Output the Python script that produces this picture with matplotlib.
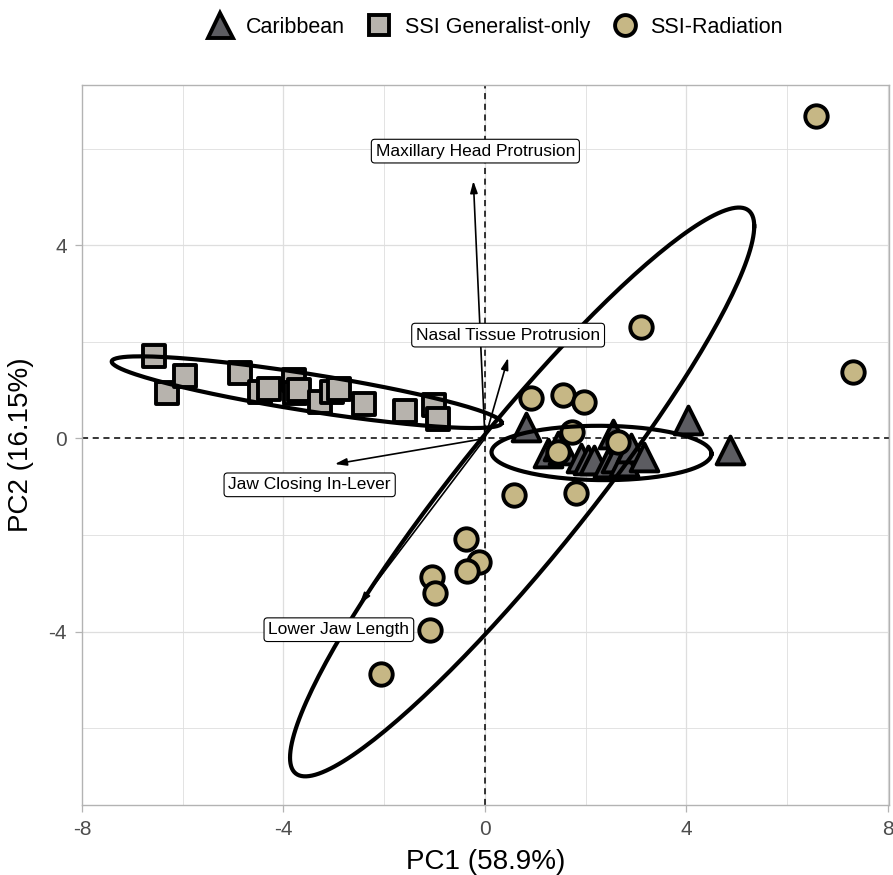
import matplotlib
matplotlib.use("Agg")
import matplotlib.pyplot as plt
from matplotlib.lines import Line2D
import numpy as np

plt.rcParams['font.family'] = ['Liberation Sans', 'DejaVu Sans']

groups = ["Caribbean", "SSI Generalist-only", "SSI-Radiation"]

carib_pc1 = [0.82, 4.04, 4.86, 1.25, 1.45, 1.55, 1.91, 2.05, 2.17, 2.44, 2.54, 2.60, 2.76, 2.90, 3.16]
carib_pc2 = [0.24, 0.38, -0.24, -0.30, -0.15, -0.24, -0.40, -0.45, -0.45, -0.51, 0.10, -0.40, -0.48, -0.20, -0.38]

gen_pc1 = [-6.57, -6.31, -5.95, -4.86, -4.47, -4.29, -3.80, -3.78, -3.70, -3.28, -3.04, -2.90, -2.41, -1.58, -1.02, -0.93]
gen_pc2 = [1.71, 0.94, 1.30, 1.36, 0.97, 1.03, 1.21, 0.94, 1.00, 0.76, 0.96, 1.02, 0.71, 0.57, 0.69, 0.40]

rad_pc1 = [6.58, 7.31, 3.10, 0.92, 1.55, 1.97, 1.73, 1.45, 2.64, 0.58, 1.81,
           -0.37, -0.11, -0.35, -1.06, -1.00, -1.10, -2.07]
rad_pc2 = [6.68, 1.38, 2.31, 0.84, 0.90, 0.76, 0.13, -0.28, -0.07, -1.17, -1.13,
           -2.08, -2.56, -2.74, -2.87, -3.20, -3.96, -4.87]

# loadings (arrow tips) and label positions
load_names = ["Maxillary Head Protrusion", "Nasal Tissue Protrusion",
              "Jaw Closing In-Lever", "Lower Jaw Length"]
load_pc1 = [-0.23, 0.46, -2.98, -2.49]
load_pc2 = [5.33, 1.67, -0.53, -3.43]
label_pc1 = [-0.19, 0.46, -3.48, -2.90]
label_pc2 = [5.95, 2.14, -0.96, -3.96]


def cov_trob(x, nu=5, maxit=25, tol=0.01):
    # port of MASS::cov.trob, as used by ggplot2 stat_ellipse(type = "t")
    n, p = x.shape
    loc = x.mean(axis=0)
    w = np.ones(n)
    for _ in range(maxit):
        w0 = w
        X = x - loc
        _, d, vt = np.linalg.svd(np.sqrt(w / w.sum())[:, None] * X, full_matrices=False)
        wX = X @ vt.T @ np.diag(1 / d)
        Q = (wX ** 2).sum(axis=1)
        w = (nu + p) / (nu + Q)
        loc = (w[:, None] * x).sum(axis=0) / w.sum()
        if np.all(np.abs(w - w0) < tol):
            break
    cov = (np.sqrt(w)[:, None] * X).T @ (np.sqrt(w)[:, None] * X) / n
    return loc, cov


def t_ellipse(xs, ys, level=0.95, segments=51):
    x = np.column_stack([xs, ys])
    loc, cov = cov_trob(x)
    dfd = len(xs) - 1
    qf = dfd / 2 * ((1 - level) ** (-2 / dfd) - 1)  # F(2, dfd) quantile
    radius = np.sqrt(2 * qf)
    chol = np.linalg.cholesky(cov).T
    ang = np.linspace(0, 2 * np.pi, segments + 1)
    circ = np.column_stack([np.cos(ang), np.sin(ang)])
    return loc + radius * circ @ chol


fig = plt.figure(figsize=(8.93, 8.75), dpi=100)
ax = fig.add_axes([0.0918, 0.080, 0.9042, 0.8229])

grid_col = "#dedede"
for v in [-6, -4, -2, 0, 2, 4, 6, 8]:
    ax.axvline(v, color=grid_col, lw=0.6 if v % 4 else 0.9, zorder=0)
for v in [-6, -4, -2, 2, 4, 6]:
    ax.axhline(v, color=grid_col, lw=0.6 if v % 4 else 0.9, zorder=0)
ax.axhline(0, color="black", lw=1.1, ls=(0, (4, 3)), zorder=1)
ax.axvline(0, color="black", lw=1.1, ls=(0, (4, 3)), zorder=1)

ax.scatter(carib_pc1, carib_pc2, marker="^", s=400, c="#5c5c61",
           edgecolors="black", linewidths=2.8, zorder=3)
ax.scatter(gen_pc1, gen_pc2, marker="s", s=230, c="#b7b3ad",
           edgecolors="black", linewidths=2.8, zorder=3)
ax.scatter(rad_pc1, rad_pc2, marker="o", s=260, c="#c6b785",
           edgecolors="black", linewidths=2.8, zorder=4)

for xs, ys in [(carib_pc1, carib_pc2), (gen_pc1, gen_pc2), (rad_pc1, rad_pc2)]:
    e = t_ellipse(xs, ys, segments=200)
    ax.plot(e[:, 0], e[:, 1], color="black", lw=3.0, zorder=5)

for name, lx, ly, tx, ty in zip(load_names, load_pc1, load_pc2, label_pc1, label_pc2):
    ax.annotate("", xy=(lx, ly), xytext=(0, 0),
                arrowprops=dict(arrowstyle="-|>,head_length=0.7,head_width=0.22",
                                color="black", lw=1.2, shrinkA=0, shrinkB=0),
                zorder=6)
    ax.text(tx, ty, name, ha="center", va="center", fontsize=12.5, zorder=7,
            bbox=dict(boxstyle="round,pad=0.25,rounding_size=0.2",
                      fc="white", ec="black", lw=0.8))

ax.set_xlim(-7.95, 8.03)
ax.set_ylim(-7.59, 7.32)
ax.set_xticks([-8, -4, 0, 4, 8])
ax.set_xticklabels(["-8", "-4", "0", "4", "8"])
ax.set_yticks([-4, 0, 4])
ax.set_yticklabels(["-4", "0", "4"])
ax.tick_params(colors="#b3b3b3", labelcolor="#4d4d4d", labelsize=15,
               length=5, width=0.9, pad=6)
for sp in ax.spines.values():
    sp.set_color("#b3b3b3")
    sp.set_linewidth(1.0)
ax.set_xlabel("PC1 (58.9%)", fontsize=20, labelpad=7)
ax.set_ylabel("PC2 (16.15%)", fontsize=20, labelpad=10)

handles = [
    Line2D([], [], marker="^", ls="", ms=18, mfc="#5c5c61", mec="black", mew=2.8),
    Line2D([], [], marker="s", ls="", ms=14, mfc="#b7b3ad", mec="black", mew=2.8),
    Line2D([], [], marker="o", ls="", ms=15, mfc="#c6b785", mec="black", mew=2.8),
]
fig.legend(handles, groups, loc="center", bbox_to_anchor=(0.553, 0.969), ncol=3,
           frameon=False, fontsize=15.5, handletextpad=0.5, columnspacing=0.9,
           handlelength=1.4)

fig.savefig("out.png", dpi=100)
